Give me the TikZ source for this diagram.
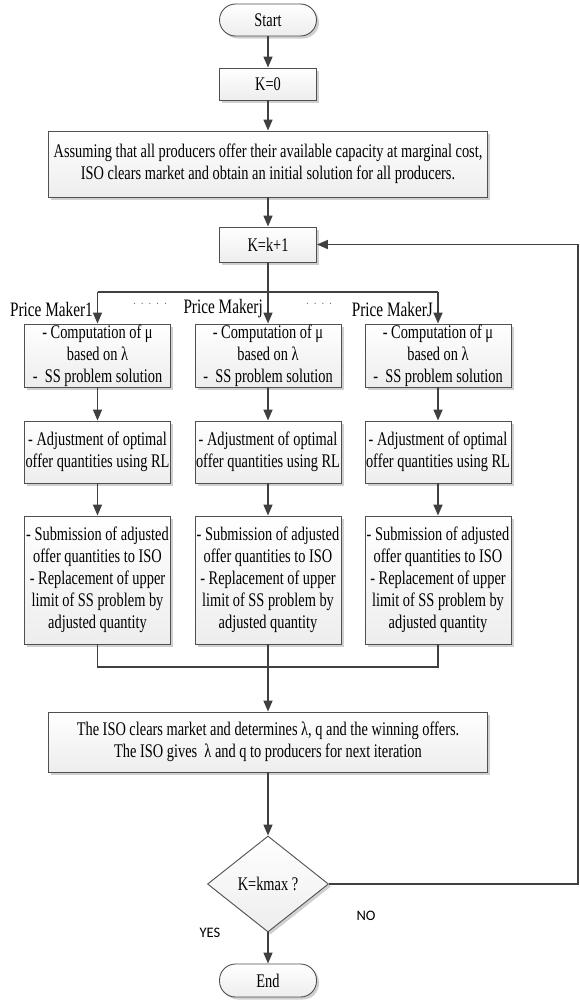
\documentclass[tikz,border=0pt]{standalone}
\usepackage{fontspec}
\setmainfont[FakeStretch=0.745]{Liberation Serif}
\newfontfamily\yesfont{Carlito}
\usetikzlibrary{arrows.meta,shapes.geometric,shadows}
\definecolor{linec}{HTML}{404040}
\definecolor{boxc}{HTML}{505050}
\begin{document}
\begin{tikzpicture}[x=1pt,y=-1pt,
  line/.style={draw=linec, line width=1.5pt},
  arr/.style={line, -{Triangle[length=11pt,width=9pt]}},
  base/.style={draw=boxc, line width=0.9pt, top color=white, bottom color=gray!14,
    drop shadow={shadow xshift=2.5pt, shadow yshift=-2.5pt, fill=gray!60, opacity=0.6},
    align=center, inner sep=0pt, font=\fontsize{19.3}{22}\selectfont},
  term/.style={base, rounded corners=16pt, minimum width=97pt, minimum height=32pt},
  smallbox/.style={base, minimum width=97pt, minimum height=33pt},
  widebox/.style={base, minimum width=439pt},
  colbox/.style={base, minimum width=146pt},
  decision/.style={base, diamond, minimum width=121pt, minimum height=96pt, aspect=1.26},
  lbl/.style={font=\fontsize{20.5}{22}\selectfont, inner sep=0pt},
  dotlbl/.style={font=\fontsize{11}{12}\selectfont, inner sep=0pt, text=linec},
  yn/.style={font=\yesfont\fontsize{14.5}{16}\selectfont, inner sep=0pt}
]
\useasboundingbox[fill=white] (0,0) rectangle (580,1001);

\node[term] (start) at (268,20) {Start};
\node[smallbox, minimum height=32pt] (k0) at (268,84) {K=0};
\node[widebox, minimum height=66pt] (init) at (268,164) {Assuming that all producers offer their available capacity at marginal cost,\\ISO clears market and obtain an initial solution for all producers.};
\node[smallbox, minimum height=35pt] (kk1) at (268,244.5) {K=k+1};

\node[colbox, minimum height=63pt] (c1a) at (97.5,355.5) {- Computation of μ\\based on λ\\-\ \ SS problem solution};
\node[colbox, minimum height=63pt] (c2a) at (268,355.5) {- Computation of μ\\based on λ\\-\ \ SS problem solution};
\node[colbox, minimum height=63pt] (c3a) at (438,355.5) {- Computation of μ\\based on λ\\-\ \ SS problem solution};

\node[colbox, minimum height=62pt] (c1b) at (97.5,452) {- Adjustment of optimal\\offer quantities using RL};
\node[colbox, minimum height=62pt] (c2b) at (268,452) {- Adjustment of optimal\\offer quantities using RL};
\node[colbox, minimum height=62pt] (c3b) at (438,452) {- Adjustment of optimal\\offer quantities using RL};

\node[colbox, minimum height=128pt] (c1c) at (97.5,580) {- Submission of adjusted\\offer quantities to ISO\\- Replacement of upper\\limit of SS problem by\\adjusted quantity};
\node[colbox, minimum height=128pt] (c2c) at (268,580) {- Submission of adjusted\\offer quantities to ISO\\- Replacement of upper\\limit of SS problem by\\adjusted quantity};
\node[colbox, minimum height=128pt] (c3c) at (438,580) {- Submission of adjusted\\offer quantities to ISO\\- Replacement of upper\\limit of SS problem by\\adjusted quantity};

\node[widebox, minimum height=60pt] (iso) at (268,742) {The ISO clears market and determines λ, q and the winning offers.\\The ISO gives\ \ λ and q to producers for next iteration};
\node[decision] (dec) at (268,884) {K=kmax ?};
\node[term, minimum height=33pt] (end) at (268,980.5) {End};

% labels
\node[lbl, anchor=east] (pm1) at (93,309) {Price Maker1};
\node[lbl, anchor=east] (pmj) at (263,309) {Price Makerj};
\node[lbl, anchor=east] (pmJ) at (433,309) {Price MakerJ};
\node[dotlbl] (dots1) at (150,305) {·\hspace{5pt}·\hspace{5pt}·\hspace{5pt}·\hspace{5pt}·};
\node[dotlbl] (dots2) at (319,305) {·\hspace{5pt}·\hspace{5pt}·\hspace{5pt}·};
\node[yn] (yes) at (210,933) {YES};
\node[yn] (no) at (366,916) {NO};

% coordinates
\coordinate (splitL) at (97.5,292);
\coordinate (splitR) at (438,292);
\coordinate (mergeL) at (97.5,667);
\coordinate (mergeR) at (438,667);
\coordinate (loopB) at (578,884);
\coordinate (loopT) at (578,244.5);

% connectors
\draw[arr] (start) -- (k0);
\draw[arr] (k0) -- (init);
\draw[arr] (init) -- (kk1);
\draw[arr] (kk1) -- (c2a);
\draw[line] (splitL) -- (splitR);
\draw[arr] (splitL) -- (c1a);
\draw[arr] (splitR) -- (c3a);
\draw[arr] (c1a) -- (c1b);
\draw[arr] (c2a) -- (c2b);
\draw[arr] (c3a) -- (c3b);
\draw[arr] (c1b) -- (c1c);
\draw[arr] (c2b) -- (c2c);
\draw[arr] (c3b) -- (c3c);
\draw[line] (c1c) -- (mergeL) -- (mergeR) -- (c3c);
\draw[arr] (c2c) -- (iso);
\draw[arr] (iso) -- (dec);
\draw[arr] (dec) -- (end);
\draw[arr] (dec.east) -- (loopB) -- (loopT) -- (kk1.east);
\end{tikzpicture}
\end{document}
